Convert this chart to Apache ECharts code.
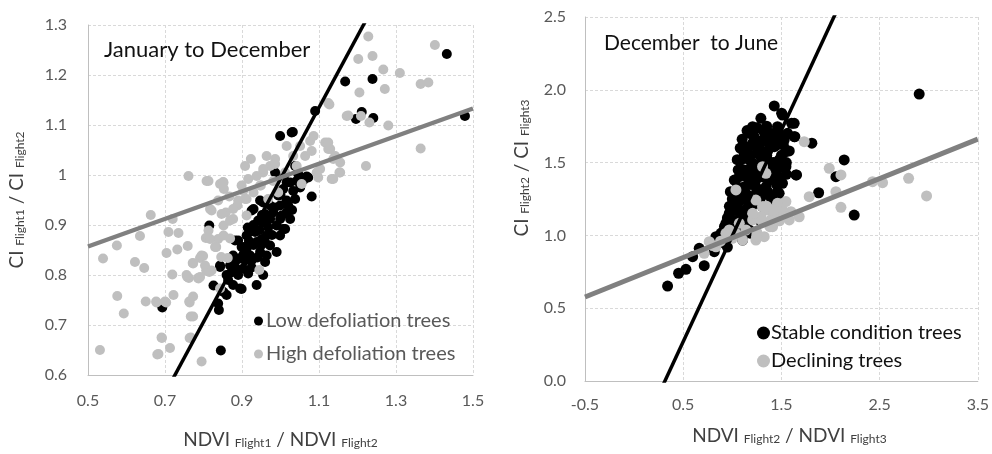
<!DOCTYPE html>
<html>
<head>
<meta charset="utf-8">
<script src="https://cdn.jsdelivr.net/npm/echarts@6/dist/echarts.min.js"></script>
<style>
  html, body { margin: 0; padding: 0; background: #fff; }
  #chart { width: 992px; height: 454px; }
</style>
</head>
<body>
<div id="chart"></div>
<script>
// ---- January to December panel ----
const lowDefoliation = [
  [0.693,0.735],[0.815,0.899],[0.845,0.649],[0.840,0.730],[0.843,0.816],[0.826,0.779],[0.860,0.760],
  [0.877,0.780],[0.899,0.772],[0.938,0.780],[0.882,0.869],[0.908,0.856],[0.930,0.932],[0.955,0.945],
  [0.990,0.846],[0.999,1.078],[1.032,1.086],[0.986,1.005],[1.038,1.018],[1.072,0.995],[1.081,0.957],
  [1.090,1.128],[1.168,1.187],[1.239,1.192],[1.196,1.112],[1.211,1.126],[1.241,1.114],[1.432,1.242],
  [1.479,1.118],[1.012,0.892],[1.016,0.985],[1.033,0.968],[1.042,0.988],[1.020,0.939],[1.003,0.919],
  [1.046,1.002],[1.007,0.972],[1.016,0.949],[0.947,0.949],[0.925,0.929],[0.890,0.869],[0.921,0.892],
  [0.955,0.905],[0.981,0.925],[0.999,0.912],[1.007,0.892],[0.964,0.879],[0.938,0.866],[0.912,0.853],
  [0.895,0.833],[0.869,0.819],[0.843,0.819],[0.860,0.800],[0.903,0.813],[0.925,0.829],[0.947,0.846],
  [0.973,0.859],[0.960,0.826],[0.895,0.773],[0.852,0.766],[0.838,0.743],[0.955,0.800],[0.916,0.803],
  [0.964,0.839],[0.999,0.879],[1.025,0.912],[0.999,0.939],[0.973,0.939],[0.960,0.922],[0.942,0.909],
  [0.912,0.879],[0.899,0.856],[0.877,0.839],[0.882,0.826],[0.934,0.886],[0.951,0.872],[0.990,0.899],
  [1.016,0.925],[1.038,0.952],[1.051,0.975],[1.025,0.985],[0.994,0.959],[0.973,0.912],[0.890,0.800],
  [0.864,0.790],[0.921,0.839],[0.908,0.829],[0.930,0.860],[0.918,0.868],[0.945,0.890],[0.968,0.895],
  [0.985,0.935],[0.905,0.840],[0.886,0.812],[0.872,0.805],[0.930,0.900],[0.952,0.920],[1.000,0.960],
  [1.030,0.930],[0.940,0.835],[0.925,0.815],[0.960,0.865],[0.978,0.880],[1.060,0.990],[1.010,1.000],
  [0.950,0.860],[0.915,0.895],[1.029,1.085],[1.068,0.997]
];
const highDefoliation = [
  [0.531,0.650],[0.539,0.833],[0.575,0.859],[0.576,0.758],[0.593,0.723],[0.622,0.826],[0.635,0.878],
  [0.646,0.814],[0.650,0.747],[0.663,0.920],[0.678,0.745],[0.691,0.675],[0.683,0.642],[0.700,0.747],
  [0.709,0.886],[0.713,0.654],[0.704,0.844],[0.720,0.912],[0.719,0.801],[0.722,0.760],[0.735,0.884],
  [0.732,0.851],[0.759,0.858],[0.761,0.998],[0.762,0.794],[0.763,0.747],[0.767,0.717],[0.767,0.675],
  [0.772,0.824],[0.787,0.793],[0.791,0.834],[0.795,0.627],[0.808,0.988],[0.813,0.889],[0.806,0.874],
  [0.815,0.806],[0.817,0.932],[0.832,0.856],[0.838,0.949],[0.843,0.982],[0.852,0.899],[0.853,0.972],
  [0.858,0.925],[0.863,0.834],[0.867,0.957],[0.869,0.873],[0.877,0.912],[0.888,0.939],[0.899,0.979],
  [0.908,1.018],[0.912,0.952],[0.912,0.919],[0.916,0.992],[0.923,1.032],[0.930,0.965],[0.945,0.810],
  [0.949,0.979],[0.955,1.005],[0.964,1.038],[0.968,0.952],[0.973,1.018],[0.981,0.988],[0.986,1.032],
  [0.994,0.965],[1.012,1.005],[1.016,1.058],[1.033,1.038],[1.042,1.018],[1.051,1.058],[1.055,0.982],
  [1.064,1.038],[1.077,1.068],[1.081,1.048],[1.086,1.078],[1.098,0.995],[1.103,1.012],[1.116,1.065],
  [1.124,1.052],[1.127,1.141],[1.133,0.992],[1.142,1.038],[1.155,1.005],[1.155,1.025],[1.172,1.118],
  [1.202,1.232],[1.205,1.165],[1.209,1.118],[1.222,1.018],[1.228,1.277],[1.239,1.238],[1.231,1.105],
  [1.267,1.211],[1.271,1.172],[1.280,1.099],[1.310,1.204],[1.364,1.182],[1.384,1.185],[1.364,1.053],
  [1.401,1.260],[0.843,0.773],[0.851,0.986],[0.799,0.838],[0.773,0.823],[0.807,0.809],[0.758,0.796],
  [0.786,0.794],[0.677,0.747],[0.703,0.745],[0.764,0.745],[0.773,0.717],[0.692,0.674],[0.764,0.674],
  [0.680,0.641],[0.812,0.874],[0.838,0.872],[0.833,0.856],[0.846,0.836],[0.813,0.988],[0.852,0.985],
  [0.938,0.998],[0.947,0.979],[0.908,0.952],[0.877,0.932],[0.847,0.922],[0.821,0.929],[0.869,0.909],
  [0.817,0.872],[0.852,0.879],[0.830,0.856],[0.795,0.839],[0.804,0.819],[0.756,0.800],[0.791,0.796],
  [0.821,0.809],[0.773,0.757],[0.955,1.012],[0.986,1.022],[0.903,0.968],[0.890,0.949],[1.124,1.065],
  [1.129,1.052],[1.137,1.032],[1.153,1.005],[1.137,0.992],[1.094,1.005],[1.124,1.144],[1.176,1.119]
];
// least-squares lines: [slope, intercept]
const lowFit = [1.43, -0.438];
const highFit = [0.276, 0.719];

// ---- December to June panel ----
const stableTrees = [
  [0.341,0.652],[0.453,0.740],[0.528,0.767],[0.596,0.854],[0.714,0.792],[0.663,0.911],[0.816,0.888],
  [0.833,0.991],[2.903,1.971],[2.241,1.140],[2.139,1.518],[1.879,1.293],[2.055,1.403],[1.810,1.633],
  [1.648,1.415],[1.630,1.678],[1.630,1.770],[1.511,1.827],[1.427,1.889],[1.291,1.804],[1.563,1.701],
  [1.546,1.575],[1.546,1.472],[1.511,1.358],[1.477,1.289],[1.393,1.266],[1.376,1.381],[1.477,1.518],
  [1.376,1.633],[1.308,1.724],[1.172,1.701],[1.207,1.633],[1.121,1.564],[1.105,1.449],[1.054,1.334],
  [1.037,1.220],[0.969,1.152],[0.935,1.083],[0.884,1.014],[0.969,1.014],[1.172,1.197],[1.240,1.334],
  [1.274,1.426],[1.172,1.381],[1.257,1.564],[1.359,1.518],[1.410,1.472],[1.444,1.426],[1.427,1.609],
  [1.342,1.678],[1.240,1.655],[1.139,1.609],[1.088,1.518],[1.172,1.518],[1.071,1.403],[1.139,1.289],
  [1.088,1.243],[1.020,1.174],[1.105,1.128],[1.003,1.106],[1.071,1.037],[1.172,1.037],[1.172,1.106],
  [1.240,1.243],[1.308,1.197],[1.291,1.289],[1.342,1.334],[1.308,1.472],[1.342,1.575],[1.528,1.655],
  [1.477,1.701],[1.460,1.747],[1.207,1.747],[1.274,1.609],[1.155,1.449],[1.223,1.403],[1.121,1.334],
  [1.037,1.289],[0.935,0.968],[0.816,0.957],[1.037,1.037],[1.105,0.968],[1.190,1.014],[1.274,1.106],
  [1.05,1.20],[1.10,1.30],[1.15,1.40],[1.20,1.50],[1.25,1.60],[1.30,1.65],[1.35,1.55],[1.40,1.45],
  [1.45,1.35],[1.12,1.25],[1.18,1.35],[1.22,1.45],[1.28,1.55],[1.33,1.70],[1.38,1.62],[1.42,1.50],
  [1.48,1.40],[1.08,1.15],[1.14,1.10],[1.20,1.20],[1.26,1.30],[1.32,1.40],[1.36,1.30],[1.16,1.60],
  [1.22,1.68],[1.18,1.55],[1.25,1.48],[1.30,1.50],[1.40,1.70],[1.45,1.62],[1.50,1.55],[1.12,1.45],
  [1.02,1.05],[0.98,1.08],[1.06,1.02],[1.24,1.38],[1.34,1.48],[1.28,1.24],[1.38,1.38],[1.55,1.50],
  [0.95,0.92],[0.90,0.95],[1.502,1.839],[1.604,1.770],[1.637,1.678],[1.654,1.415],
  [1.06,1.45],[1.05,1.52],[1.08,1.60],[1.10,1.66],[1.00,1.25],[0.97,1.20],[0.98,1.30],[1.02,1.38],
  [0.95,1.12],[0.92,1.06],[0.90,1.02],[1.15,1.72],[1.25,1.74],[1.35,1.75],[1.44,1.66],[1.52,1.62],
  [1.58,1.58],[1.50,1.47],[1.55,1.42],[1.46,1.30],[1.40,1.25],[1.32,1.28],[1.14,1.18],[1.10,1.08]
];
const decliningTrees = [
  [1.732,1.644],[1.987,1.461],[2.106,1.415],[2.055,1.300],[2.106,1.193],[2.428,1.369],[2.530,1.362],
  [2.795,1.392],[2.978,1.271],[1.783,1.266],[1.546,1.232],[1.597,1.163],[1.580,1.106],[1.681,1.128],
  [1.444,1.152],[1.359,1.174],[1.410,1.060],[1.308,1.197],[1.291,1.128],[1.207,1.106],[1.325,0.991],
  [1.240,0.968],[1.139,1.037],[1.071,1.083],[0.969,1.037],[0.935,1.014],[0.833,0.922],[0.765,0.957],
  [0.714,0.877],[1.037,1.312],[1.308,1.472],[1.342,1.426],[1.240,1.243],[1.105,0.968],[1.037,1.014],
  [1.207,1.152],[1.393,1.106],[1.511,1.174],[0.80,0.93],[0.88,0.96],[0.95,1.00],[1.00,0.98],
  [1.30,1.10],[1.42,1.15],[1.48,1.10],[1.55,1.13],[1.25,1.02],[1.35,1.20],[1.46,1.22],[1.40,1.08],
  [1.315,1.197],[1.417,1.174],[1.383,1.060],[1.247,0.991]
];
const stableFit = [1.453, -0.456];
const decliningFit = [0.271, 0.7125];

// axis ranges
const xRangeA = [0.5, 1.5], yRangeA = [0.6, 1.3];
const xRangeB = [-0.5, 3.5], yRangeB = [0, 2.5];

const FONT = 'Lato';
const GREY_TEXT = '#595959';
const DOT_GREY = '#bfbfbf';

// end points of a fitted line across the x range (clipped by the grid)
function fitLine(fit, range) {
  return range.map(x => [x, fit[0] * x + fit[1]]);
}

function richName(parts) {
  return parts.map(p => '{' + p[0] + '|' + p[1] + '}').join('');
}
function nameStyle(pad) {
  return {
    padding: pad,
    rich: {
      m: { fontFamily: FONT, fontSize: 19, color: '#404040', lineHeight: 19, verticalAlign: 'top' },
      s: { fontFamily: FONT, fontSize: 12, color: '#404040', lineHeight: 12, verticalAlign: 'bottom', padding: [9, 0, 0, 0] }
    }
  };
}

function valueAxis(idx, range, interval, fmt, margin, extra) {
  return Object.assign({
    type: 'value', gridIndex: idx, min: range[0], max: range[1], interval: interval,
    axisLine: { show: true, onZero: false, lineStyle: { color: '#bfbfbf', width: 1 } },
    axisTick: { show: false },
    splitLine: { show: true, lineStyle: { color: '#d9d9d9', type: [3, 2], width: 1 } },
    axisLabel: { fontFamily: FONT, fontSize: 16, color: GREY_TEXT, margin: margin, formatter: fmt },
    nameLocation: 'middle'
  }, extra);
}

const plain = v => String(Math.round(v * 10) / 10);
const oneDec = v => v.toFixed(1);

const option = {
  backgroundColor: '#fff',
  animation: false,
  grid: [
    { left: 88, top: 25, width: 385, height: 352 },
    { left: 585, top: 17, width: 393, height: 364 }
  ],
  title: [
    { text: 'January to December', left: 99, top: 34,
      textStyle: { fontFamily: FONT, fontSize: 22, fontWeight: 'normal', color: '#111' } },
    { text: 'December  to June', left: 599, top: 28,
      textStyle: { fontFamily: FONT, fontSize: 21, fontWeight: 'normal', color: '#111' } }
  ],
  legend: [
    { data: ['Low defoliation trees', 'High defoliation trees'], orient: 'vertical',
      left: 249, top: 306, itemWidth: 9, itemHeight: 9, itemGap: 13, icon: 'circle',
      textStyle: { fontFamily: FONT, fontSize: 20, color: GREY_TEXT, padding: [0, 0, 0, -2] } },
    { data: ['Stable condition trees', 'Declining trees'], orient: 'vertical',
      left: 752, top: 318, itemWidth: 13, itemHeight: 13, itemGap: 8, icon: 'circle',
      textStyle: { fontFamily: FONT, fontSize: 20, color: '#111', padding: [0, 0, 0, -4] } }
  ],
  xAxis: [
    valueAxis(0, xRangeA, 0.2, plain, 18, {
      name: richName([['m', 'NDVI '], ['s', 'Flight1'], ['m', ' / NDVI '], ['s', 'Flight2']]),
      nameGap: 55, nameTextStyle: nameStyle([0, 0, 0, 0])
    }),
    valueAxis(1, xRangeB, 1, oneDec, 16, {
      name: richName([['m', 'NDVI '], ['s', 'Flight2'], ['m', ' / NDVI '], ['s', 'Flight3']]),
      nameGap: 45, nameTextStyle: nameStyle([0, 0, 0, 16])
    })
  ],
  yAxis: [
    valueAxis(0, yRangeA, 0.1, plain, 21, {
      name: richName([['m', 'CI '], ['s', 'Flight1'], ['m', ' / CI '], ['s', 'Flight2']]),
      nameGap: 62, nameTextStyle: nameStyle([0, 0, 0, 0])
    }),
    valueAxis(1, yRangeB, 0.5, oneDec, 19, {
      name: richName([['m', 'CI '], ['s', 'Flight2'], ['m', ' / CI '], ['s', 'Flight3']]),
      nameGap: 54, nameTextStyle: nameStyle([0, 0, 0, 62])
    })
  ],
  series: [
    { name: 'Low defoliation trees', type: 'scatter', xAxisIndex: 0, yAxisIndex: 0,
      data: lowDefoliation, symbolSize: 10, itemStyle: { color: '#000', opacity: 1 } },
    { name: 'High defoliation trees', type: 'scatter', xAxisIndex: 0, yAxisIndex: 0,
      data: highDefoliation, symbolSize: 10, itemStyle: { color: DOT_GREY, opacity: 1 } },
    { type: 'line', xAxisIndex: 0, yAxisIndex: 0, data: fitLine(lowFit, xRangeA), symbol: 'none',
      lineStyle: { color: '#000', width: 3.5 }, clip: true, silent: true },
    { type: 'line', xAxisIndex: 0, yAxisIndex: 0, data: fitLine(highFit, xRangeA), symbol: 'none',
      lineStyle: { color: '#808080', width: 4.5 }, clip: true, silent: true },

    { name: 'Stable condition trees', type: 'scatter', xAxisIndex: 1, yAxisIndex: 1,
      data: stableTrees, symbolSize: 11, itemStyle: { color: '#000', opacity: 1 } },
    { name: 'Declining trees', type: 'scatter', xAxisIndex: 1, yAxisIndex: 1,
      data: decliningTrees, symbolSize: 11, itemStyle: { color: DOT_GREY, opacity: 1 } },
    { type: 'line', xAxisIndex: 1, yAxisIndex: 1, data: fitLine(stableFit, xRangeB), symbol: 'none',
      lineStyle: { color: '#000', width: 3.5 }, clip: true, silent: true },
    { type: 'line', xAxisIndex: 1, yAxisIndex: 1, data: fitLine(decliningFit, xRangeB), symbol: 'none',
      lineStyle: { color: '#808080', width: 5 }, clip: true, silent: true }
  ]
};

const chart = echarts.init(document.getElementById('chart'), null, { renderer: 'canvas' });
chart.setOption(option);
</script>
</body>
</html>
